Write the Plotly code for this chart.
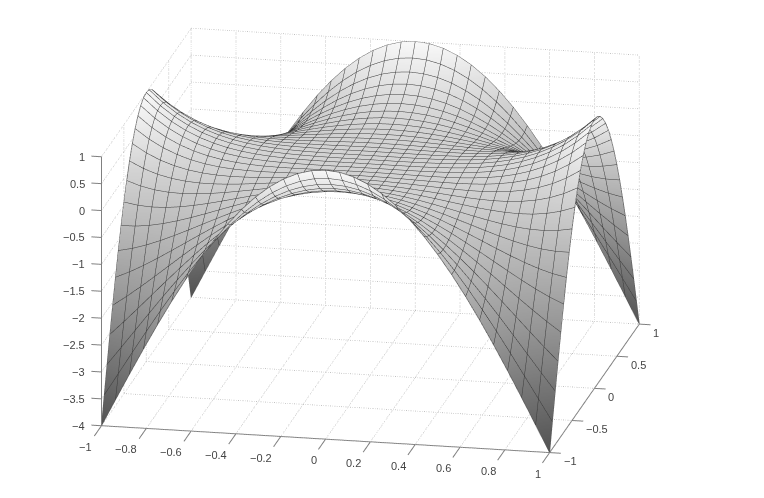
import numpy as np
import plotly.graph_objects as go

# Surface heights estimated from the picture on the visible 33 x 33 mesh.
# Table: nodes with x >= 0, y >= 0 (16 steps each way); the picture is mirrored
# in both axes. Corners sit at -4, edge middles at +1, the centre is flat at 0.
half_nodes = [i / 16 for i in range(17)]
z_quadrant = [
 [0.000,0.000,0.000,0.001,0.004,0.010,0.020,0.037,0.063,0.100,0.153,0.223,0.316,0.436,0.586,0.772,1.000],
 [0.000,0.000,0.000,0.000,0.002,0.007,0.017,0.032,0.057,0.093,0.143,0.212,0.303,0.420,0.568,0.752,0.977],
 [0.000,0.000,-0.001,-0.002,-0.002,0.001,0.007,0.019,0.039,0.071,0.116,0.179,0.264,0.374,0.515,0.690,0.906],
 [0.001,0.000,-0.002,-0.005,-0.008,-0.010,-0.009,-0.003,0.011,0.035,0.071,0.125,0.199,0.298,0.426,0.588,0.790],
 [0.004,0.002,-0.002,-0.008,-0.016,-0.023,-0.029,-0.031,-0.027,-0.015,0.010,0.050,0.109,0.192,0.303,0.447,0.629],
 [0.010,0.007,0.001,-0.010,-0.023,-0.038,-0.053,-0.066,-0.074,-0.076,-0.067,-0.044,-0.004,0.059,0.147,0.267,0.424],
 [0.020,0.017,0.007,-0.009,-0.029,-0.053,-0.079,-0.105,-0.129,-0.147,-0.157,-0.156,-0.138,-0.101,-0.040,0.051,0.176],
 [0.037,0.032,0.019,-0.003,-0.031,-0.066,-0.105,-0.147,-0.188,-0.227,-0.259,-0.283,-0.293,-0.286,-0.256,-0.200,-0.112],
 [0.063,0.057,0.039,0.011,-0.027,-0.074,-0.129,-0.188,-0.250,-0.312,-0.371,-0.423,-0.465,-0.492,-0.500,-0.483,-0.438],
 [0.100,0.093,0.071,0.035,-0.015,-0.076,-0.147,-0.227,-0.312,-0.400,-0.489,-0.574,-0.651,-0.717,-0.767,-0.796,-0.798],
 [0.153,0.143,0.116,0.071,0.010,-0.067,-0.157,-0.259,-0.371,-0.489,-0.610,-0.732,-0.849,-0.959,-1.056,-1.135,-1.191],
 [0.223,0.212,0.179,0.125,0.050,-0.044,-0.156,-0.283,-0.423,-0.574,-0.732,-0.894,-1.055,-1.213,-1.362,-1.497,-1.613],
 [0.316,0.303,0.264,0.199,0.109,-0.004,-0.138,-0.293,-0.465,-0.651,-0.849,-1.055,-1.266,-1.476,-1.681,-1.877,-2.059],
 [0.436,0.420,0.374,0.298,0.192,0.059,-0.101,-0.286,-0.492,-0.717,-0.959,-1.213,-1.476,-1.743,-2.011,-2.273,-2.525],
 [0.586,0.568,0.515,0.426,0.303,0.147,-0.040,-0.256,-0.500,-0.767,-1.056,-1.362,-1.681,-2.011,-2.345,-2.679,-3.008],
 [0.772,0.752,0.690,0.588,0.447,0.267,0.051,-0.200,-0.483,-0.796,-1.135,-1.497,-1.877,-2.273,-2.679,-3.090,-3.501],
 [1.000,0.977,0.906,0.790,0.629,0.424,0.176,-0.112,-0.438,-0.798,-1.191,-1.613,-2.059,-2.525,-3.008,-3.501,-4.000],
]
x_ticks = [-1, -0.8, -0.6, -0.4, -0.2, 0, 0.2, 0.4, 0.6, 0.8, 1]
y_ticks = [-1, -0.5, 0, 0.5, 1]
z_ticks = [-4, -3.5, -3, -2.5, -2, -1.5, -1, -0.5, 0, 0.5, 1]

h = np.array(half_nodes)
zq = np.array(z_quadrant)
x = np.concatenate([-h[:0:-1], h])
y = x
zx = np.concatenate([zq[:0:-1, :], zq], axis=0)
z_by_x = np.concatenate([zx[:, :0:-1], zx], axis=1)
z = z_by_x.T                                             # rows = y, columns = x

MESH = "#3a3a3a"
GRID = "#b0b0b0"
AXIS = "#808080"
LABEL = "#444444"
fig = go.Figure()
fig.add_trace(go.Surface(
    x=x, y=y, z=z, cmin=-4, cmax=1, showscale=False,
    colorscale=[[0, "#525252"], [0.4, "#959595"], [0.8, "#d2d2d2"], [1, "#f8f8f8"]],
    lighting=dict(ambient=1, diffuse=0, specular=0, roughness=1, fresnel=0),
    contours=dict(
        x=dict(show=True, start=-1, end=1, size=float(h[1]), color=MESH, width=7),
        y=dict(show=True, start=-1, end=1, size=float(h[1]), color=MESH, width=7),
        z=dict(show=False),
    ),
    hoverinfo="skip",
))

def line3d(xs, ys, zs, color, width, dash="solid"):
    fig.add_trace(go.Scatter3d(x=xs, y=ys, z=zs, mode="lines", hoverinfo="skip",
                               showlegend=False,
                               line=dict(color=color, width=width, dash=dash)))

for t in x_ticks:
    line3d([t, t], [-1, 1], [-4, -4], GRID, 1.5, "dot")    # floor
    line3d([t, t], [1, 1], [-4, 1], GRID, 1.5, "dot")      # back wall
    line3d([t, t], [-1, -1.16], [-4, -4], AXIS, 2)         # tick
for t in y_ticks:
    line3d([-1, 1], [t, t], [-4, -4], GRID, 1.5, "dot")    # floor
    line3d([-1, -1], [t, t], [-4, 1], GRID, 1.5, "dot")    # side wall
    line3d([1, 1.05], [t, t], [-4, -4], AXIS, 2)           # tick
for t in z_ticks:
    line3d([-1, 1], [1, 1], [t, t], GRID, 1.5, "dot")      # back wall
    line3d([-1, -1], [-1, 1], [t, t], GRID, 1.5, "dot")    # side wall
    line3d([-1, -1.045], [-1, -1], [t, t], AXIS, 2)        # tick

# axis lines
line3d([-1, 1], [-1, -1], [-4, -4], AXIS, 2)
line3d([1, 1], [-1, 1], [-4, -4], AXIS, 2)
line3d([-1, -1], [-1, -1], [-4, 1], AXIS, 2)

# outline of the mesh, taken from the table's outer rows and columns
line3d(x, [y[0]] * len(x), z[0, :], "#5a5a5a", 1.5)
line3d(x, [y[-1]] * len(x), z[-1, :], "#5a5a5a", 1.5)
line3d([x[0]] * len(y), y, z[:, 0], "#5a5a5a", 1.5)
line3d([x[-1]] * len(y), y, z[:, -1], "#5a5a5a", 1.5)

def fmt(t):
    return f"{t:g}".replace("-", "\u2212")

font = dict(family="Liberation Sans", size=11, color=LABEL)
annotations = []
for t in x_ticks:
    annotations.append(dict(x=t, y=-1, z=-4, text=fmt(t), showarrow=False, font=font,
                            xanchor="right", yanchor="top", xshift=-7, yshift=-13))
for t in y_ticks:
    annotations.append(dict(x=1, y=t, z=-4, text=fmt(t), showarrow=False, font=font,
                            xanchor="left", yanchor="middle", xshift=12, yshift=-8.5))
for t in z_ticks:
    annotations.append(dict(x=-1, y=-1, z=t, text=fmt(t), showarrow=False, font=font,
                            xanchor="right", yanchor="middle", xshift=-14, yshift=0))

phi, theta = np.radians(-78.44), np.radians(17.05)
R = 2.0
center = dict(x=0.0811, y=-0.0034, z=-0.0636)
fig.update_layout(
    width=764, height=498, margin=dict(l=0, r=0, t=0, b=0),
    paper_bgcolor="white", showlegend=False,
    scene=dict(
        domain=dict(x=[0, 1], y=[0, 1]),
        xaxis=dict(visible=False, range=[-1.4, 1.4]),
        yaxis=dict(visible=False, range=[-1.4, 1.4]),
        zaxis=dict(visible=False, range=[-4.5, 1.5]),
        aspectmode="manual", aspectratio=dict(x=1.837 * 1.4, y=1.797 * 1.4, z=1.130 * 1.2),
        annotations=annotations,
        camera=dict(
            projection=dict(type="orthographic"),
            up=dict(x=0, y=0, z=1), center=center,
            eye=dict(x=center["x"] + R*np.cos(phi)*np.cos(theta),
                     y=center["y"] + R*np.sin(phi)*np.cos(theta),
                     z=center["z"] + R*np.sin(theta)),
        ),
    ),
)
fig.write_html("out.html")
